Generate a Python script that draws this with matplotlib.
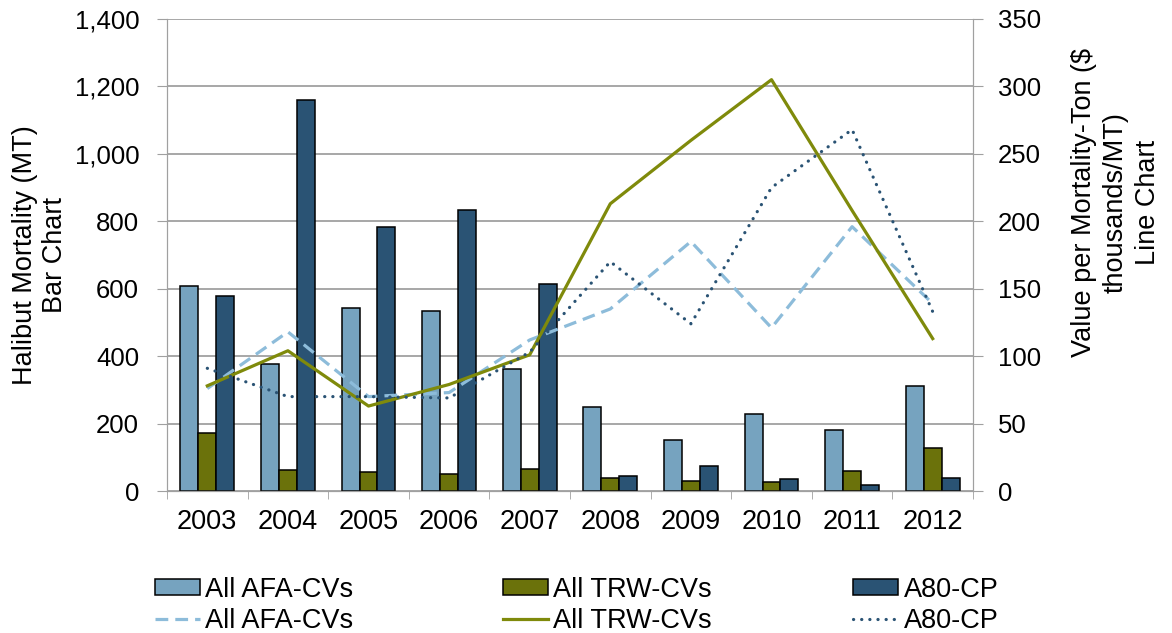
import numpy as np
import matplotlib.pyplot as plt
from matplotlib.lines import Line2D
from matplotlib.patches import Patch

plt.rcParams['font.family'] = ['Liberation Sans', 'DejaVu Sans']

years = ['2003', '2004', '2005', '2006', '2007', '2008', '2009', '2010', '2011', '2012']

# halibut mortality (MT), bars
afa_mt = [607, 378, 543, 535, 363, 248, 150, 227, 180, 310]
trw_mt = [172, 63, 55, 50, 65, 40, 30, 28, 58, 128]
a80_mt = [578, 1160, 782, 832, 613, 45, 75, 35, 17, 38]

# value per mortality-ton ($ thousands/MT), lines
afa_val = [76, 118, 70, 73, 112, 135, 185, 121, 196, 139]
trw_val = [78, 104, 63, 79, 101, 213, 260, 305, 208, 113]
a80_val = [91, 70, 70, 69, 103, 170, 124, 225, 268, 133]

c_afa = '#76a3bf'
c_trw = '#6b720b'
c_a80 = '#2a5374'
c_afa_line = '#8dbcda'
c_trw_line = '#7f8a0b'
grey = '#a0a0a0'

afa_style = dict(color=c_afa_line, lw=2.3, dashes=(4, 2.2))
trw_style = dict(color=c_trw_line, lw=2.3)
a80_style = dict(color=c_a80, lw=2.3, dashes=(0.05, 2.5), dash_capstyle='round')

fig = plt.figure(figsize=(11.72, 6.33), dpi=100)
ax = fig.add_axes([0.1425, 0.2243, 0.6877, 0.7457])
ax2 = ax.twinx()

ind = np.arange(len(years))
width = 0.223
ax.bar(ind - width, afa_mt, width, color=c_afa, edgecolor='black', linewidth=1.1, zorder=2)
ax.bar(ind, trw_mt, width, color=c_trw, edgecolor='black', linewidth=1.1, zorder=2)
ax.bar(ind + width, a80_mt, width, color=c_a80, edgecolor='black', linewidth=1.1, zorder=2)

ax2.plot(ind, afa_val, **afa_style)
ax2.plot(ind, trw_val, **trw_style)
ax2.plot(ind, a80_val, **a80_style)

ax.set_xlim(-0.5, len(years) - 0.5)
ax.set_ylim(0, 1400)
ax2.set_ylim(0, 350)
ax.set_yticks(np.arange(0, 1401, 200))
ax.set_yticklabels(['{:,}'.format(v) for v in range(0, 1401, 200)])
ax2.set_yticks(np.arange(0, 351, 50))

ax.set_xticks(ind)
ax.set_xticklabels(years)
ax.set_xticks(np.arange(-0.5, len(years), 1), minor=True)
ax.tick_params(axis='x', which='major', length=0, labelsize=19.5, pad=13)
ax.tick_params(axis='x', which='minor', length=6, color=grey)
ax.tick_params(axis='y', length=7, color=grey, labelsize=18.5, pad=13)
ax2.tick_params(axis='y', length=7, color=grey, labelsize=18.5, pad=11)

ax.grid(axis='y', color=grey, lw=1.3, zorder=0)
ax.set_axisbelow(True)
for a in (ax, ax2):
    a.spines['top'].set_visible(False)
    for s in ('left', 'right', 'bottom'):
        a.spines[s].set_color(grey)

fig.text(0.034, 0.597, 'Halibut Mortality (MT)\nBar Chart', rotation=90,
         ha='center', va='center', multialignment='center', fontsize=19.5, linespacing=1.2)
fig.text(0.952, 0.68, 'Value per Mortality-Ton ($\nthousands/MT)\nLine Chart', rotation=90,
         ha='center', va='center', multialignment='center', fontsize=19.5, linespacing=1.3)

names = ['All AFA-CVs', 'All TRW-CVs', 'A80-CP']
bar_cols = [c_afa, c_trw, c_a80]
line_styles = [afa_style, trw_style, a80_style]
xs = [0.132, 0.429, 0.728]
for name, bc, ls, x in zip(names, bar_cols, line_styles, xs):
    handles = [Patch(facecolor=bc, edgecolor='black', linewidth=1.1), Line2D([], [], **ls)]
    fig.legend(handles, [name, name], loc='upper left', bbox_to_anchor=(x, 0.089),
               frameon=False, fontsize=19.5, handlelength=1.67, handleheight=0.5,
               handletextpad=0.2, labelspacing=0.2, borderpad=0, borderaxespad=0)

plt.savefig('out.png')
